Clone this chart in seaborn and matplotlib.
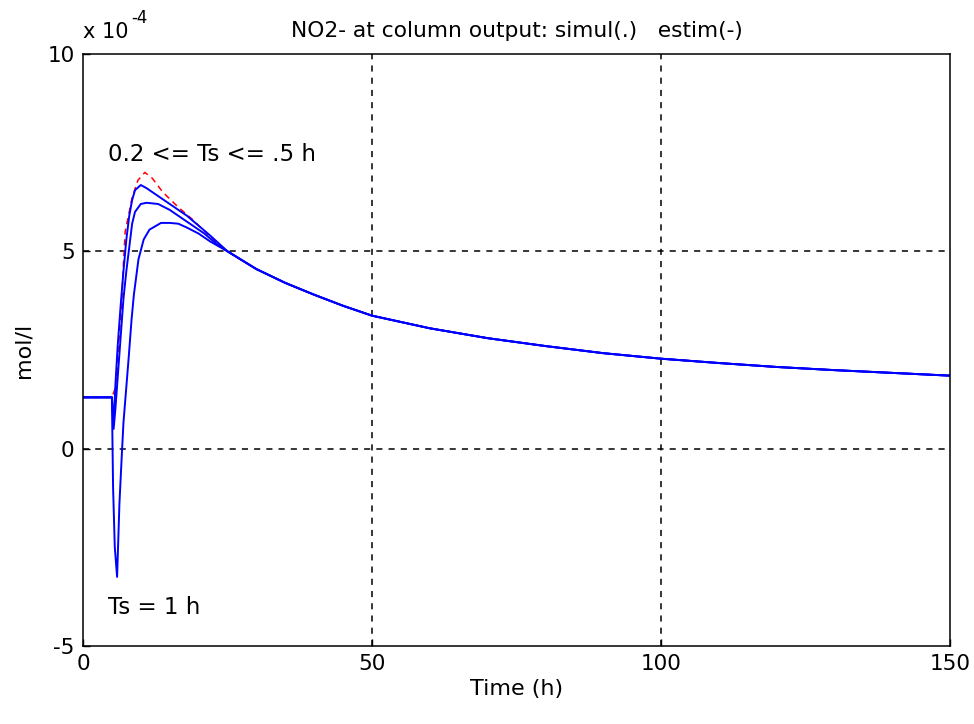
import numpy as np
import pandas as pd
import matplotlib
matplotlib.use("Agg")
import matplotlib.pyplot as plt
import seaborn as sns

plt.rcParams['font.family'] = ['DejaVu Sans']

# values in units of 1e-4 mol/l
tail_t = [25, 30, 35, 40, 45, 50, 60, 70, 80, 90, 100, 110, 120, 130, 140, 150]
tail_v = [5.0, 4.55, 4.2, 3.9, 3.62, 3.37, 3.05, 2.8, 2.6, 2.42, 2.28, 2.17, 2.07, 1.99, 1.92, 1.85]

simul_t = [0, 5, 5.5, 5.9, 6.2, 6.7, 7.0, 7.3, 8.0, 8.5, 9.5, 10.7, 12, 13.8, 16.4, 19, 22]
simul_v = [1.3, 1.3, 1.5, 1.9, 2.7, 3.7, 4.7, 5.5, 6.0, 6.36, 6.8, 7.0, 6.85, 6.5, 6.13, 5.8, 5.37]

estA_t = [0, 5, 5.3, 5.6, 6, 6.5, 7, 7.5, 8, 8.5, 9, 10, 11, 12, 14, 16, 18, 20, 22]
estA_v = [1.3, 1.3, 0.6, 1.6, 2.6, 3.6, 4.5, 5.3, 5.9, 6.3, 6.55, 6.68, 6.6, 6.5, 6.3, 6.1, 5.9, 5.65, 5.4]

estB_t = [0, 5, 5.3, 5.6, 6, 6.5, 7, 7.5, 8, 8.5, 9, 10, 11, 13, 15, 17, 19, 21, 23]
estB_v = [1.3, 1.3, 0.5, 1.0, 1.8, 2.8, 3.8, 4.5, 5.1, 5.7, 6.0, 6.2, 6.23, 6.2, 6.05, 5.85, 5.65, 5.45, 5.2]

estC_t = [0, 5, 5.2, 5.5, 5.9, 6.3, 6.7, 7.0, 7.5, 7.9, 8.4, 8.8, 9.6, 10.5, 11.5, 13.5, 15, 16.5, 18, 20, 22]
estC_v = [1.3, 1.3, -0.96, -2.5, -3.25, -1.4, -0.2, 0.66, 1.57, 2.3, 3.27, 3.9, 4.8, 5.3, 5.55, 5.72, 5.72, 5.7, 5.6, 5.45, 5.25]

fig = plt.figure(figsize=(9.74, 7.24), dpi=100)
ax = fig.add_axes([83/974, 1 - 646/724, (950-83)/974, (646-54)/724])
fs = 15.5

df = pd.DataFrame({"t": simul_t + tail_t, "v": simul_v + tail_v})
sns.lineplot(data=df, x="t", y="v", ax=ax, color="#ff0000", linewidth=1.1,
             linestyle=(0, (4, 3)), estimator=None, sort=False, zorder=1)
for tt, vv in [(estA_t, estA_v), (estB_t, estB_v), (estC_t, estC_v)]:
    df = pd.DataFrame({"t": tt + tail_t, "v": vv + tail_v})
    sns.lineplot(data=df, x="t", y="v", ax=ax, color="#0000ff", linewidth=1.4,
                 estimator=None, sort=False, zorder=2)

ax.set_xlim(0, 150)
ax.set_ylim(-5, 10)
ax.set_xticks([0, 50, 100, 150])
ax.set_yticks([-5, 0, 5, 10])
ax.set_xticklabels(["0", "50", "100", "150"], fontsize=fs)
ax.set_yticklabels(["-5", "0", "5", "10"], fontsize=fs)
ax.tick_params(direction="in", length=5, width=1, pad=6)
for y in [0, 5]:
    ax.axhline(y, color="black", linestyle=(0, (4, 4)), linewidth=1.1, zorder=0)
for x in [50, 100]:
    ax.axvline(x, color="black", linestyle=(0, (4, 4)), linewidth=1.1, zorder=0)
for s in ax.spines.values():
    s.set_linewidth(1.1)
    s.set_color("black")

ax.set_xlabel("Time (h)", fontsize=16, labelpad=3)
ax.set_ylabel("mol/l", fontsize=16, labelpad=10)
ax.set_title("NO2- at column output: simul(.)   estim(-)", fontsize=15.7, pad=12)

ax.text(4.3, 7.45, "0.2 <= Ts <= .5 h", fontsize=16.5, va="center", ha="left")
ax.text(4.3, -4.03, "Ts = 1 h", fontsize=16.5, va="center", ha="left")

fig.text(83/974, 1 - 32/724, "x 10", fontsize=15, ha="left", va="center")
fig.text(131/974, 1 - 18/724, "-4", fontsize=12, ha="left", va="center")

fig.savefig("out.png", dpi=100, facecolor="white")
